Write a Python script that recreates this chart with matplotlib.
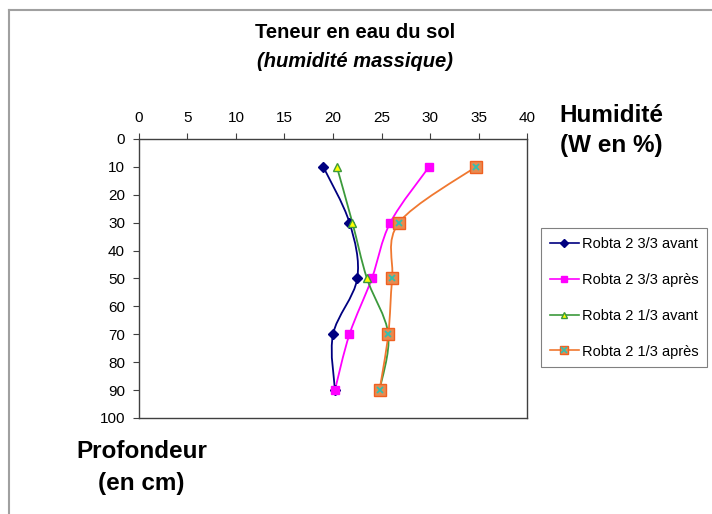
import numpy as np
import matplotlib.pyplot as plt
from matplotlib.path import Path
from matplotlib.patches import PathPatch
from matplotlib.lines import Line2D

plt.rcParams['font.family'] = ['Liberation Sans', 'DejaVu Sans']

# donnees
profondeur = [10, 30, 50, 70, 90]
avant_33 = [19.0, 21.7, 22.5, 20.0, 20.2]
apres_33 = [29.9, 25.9, 24.0, 21.7, 20.2]
avant_13 = [20.4, 22.0, 23.5, 25.7, 24.8]
apres_13 = [34.7, 26.8, 26.1, 25.7, 24.8]
noms = ['Robta 2 3/3 avant', 'Robta 2 3/3 après',
        'Robta 2 1/3 avant', 'Robta 2 1/3 après']
x_ticks = [0, 5, 10, 15, 20, 25, 30, 35, 40]
y_ticks = [0, 10, 20, 30, 40, 50, 60, 70, 80, 90, 100]


# courbe lissee facon Excel (bezier a partir des points)
def courbe_lisse(ax, xs, ys, couleur):
    pts = np.column_stack([xs, ys])
    n = len(pts)
    verts = [pts[0]]
    codes = [Path.MOVETO]
    for i in range(n - 1):
        p0 = pts[i - 1] if i > 0 else pts[i]
        p1 = pts[i]
        p2 = pts[i + 1]
        p3 = pts[i + 2] if i + 2 < n else pts[i + 1]
        c1 = p1 + (p2 - p0) / 6
        c2 = p2 - (p3 - p1) / 6
        verts += [c1, c2, p2]
        codes += [Path.CURVE4] * 3
    ax.add_patch(PathPatch(Path(verts, codes), facecolor='none',
                           edgecolor=couleur, lw=1.3, zorder=2))


fig = plt.figure(figsize=(7.12, 5.14), dpi=100)
ax = fig.add_axes([0.1952, 0.1868, 0.545, 0.5428])

series = [
    (avant_33, '#000080', dict(marker='D', mfc='#000080', mec='#000080'), 5),
    (apres_33, '#ff00ff', dict(marker='s', mfc='#ff00ff', mec='#ff00ff'), 5.5),
    (avant_13, '#3c9a3c', dict(marker='^', mfc='#ffff00', mec='#3c9a3c'), 6),
    (apres_13, '#f07830', dict(marker='s', mfc='#e88a50', mec='#f06020'), 8),
]

handles = []
for (vals, couleur, style, taille), nom in zip(series, noms):
    courbe_lisse(ax, vals, profondeur, couleur)
    ax.plot(vals, profondeur, ls='none', ms=taille, zorder=3, **style)
    h = Line2D([], [], color=couleur, lw=1.2, ms=taille * 0.8, **style)
    handles.append(h)

# croix turquoise sur les carres orange
ax.plot(apres_13, profondeur, ls='none', marker='x', ms=5, mew=1.3,
        color='#30c0b0', zorder=4)
h_x = Line2D([], [], ls='none', marker='x', ms=4, mew=1.2, color='#30c0b0')
handles[3] = (handles[3], h_x)

ax.set_xlim(0, 40)
ax.set_ylim(100, 0)
ax.set_xticks(x_ticks)
ax.set_yticks(y_ticks)
ax.xaxis.tick_top()
ax.tick_params(direction='out', length=4, width=0.8, color='#404040',
               labelsize=11, pad=6)
for s in ax.spines.values():
    s.set_color('#404040')
    s.set_linewidth(1.0)

fig.text(0.4986, 0.9377, 'Teneur en eau du sol', ha='center', va='center',
         fontsize=14.5, fontweight='bold')
fig.text(0.4986, 0.8794, '(humidité massique)', ha='center', va='center',
         fontsize=14.5, fontweight='bold', fontstyle='italic')
fig.text(0.859, 0.776, 'Humidité', ha='center', va='center',
         fontsize=17.5, fontweight='bold')
fig.text(0.859, 0.716, '(W en %)', ha='center', va='center',
         fontsize=17.5, fontweight='bold')
fig.text(0.199, 0.121, 'Profondeur', ha='center', va='center',
         fontsize=17.5, fontweight='bold')
fig.text(0.199, 0.060, '(en cm)', ha='center', va='center',
         fontsize=17.5, fontweight='bold')

leg = fig.legend(handles, noms, loc='upper left',
                 bbox_to_anchor=(0.760, 0.556), bbox_transform=fig.transFigure,
                 borderaxespad=0, fancybox=False, fontsize=10.5,
                 labelspacing=1.5, handlelength=2.0, handletextpad=0.2,
                 borderpad=0.6, framealpha=1)
leg.get_frame().set_edgecolor('#808080')
leg.get_frame().set_linewidth(0.8)

# cadre exterieur du graphique
fig.add_artist(Line2D([9 / 712, 1], [1 - 10 / 514, 1 - 10 / 514],
                      transform=fig.transFigure, color='#a0a0a0', lw=1.5))
fig.add_artist(Line2D([9 / 712, 9 / 712], [0, 1 - 10 / 514],
                      transform=fig.transFigure, color='#a0a0a0', lw=1.5))

fig.savefig('out.png', dpi=100)
